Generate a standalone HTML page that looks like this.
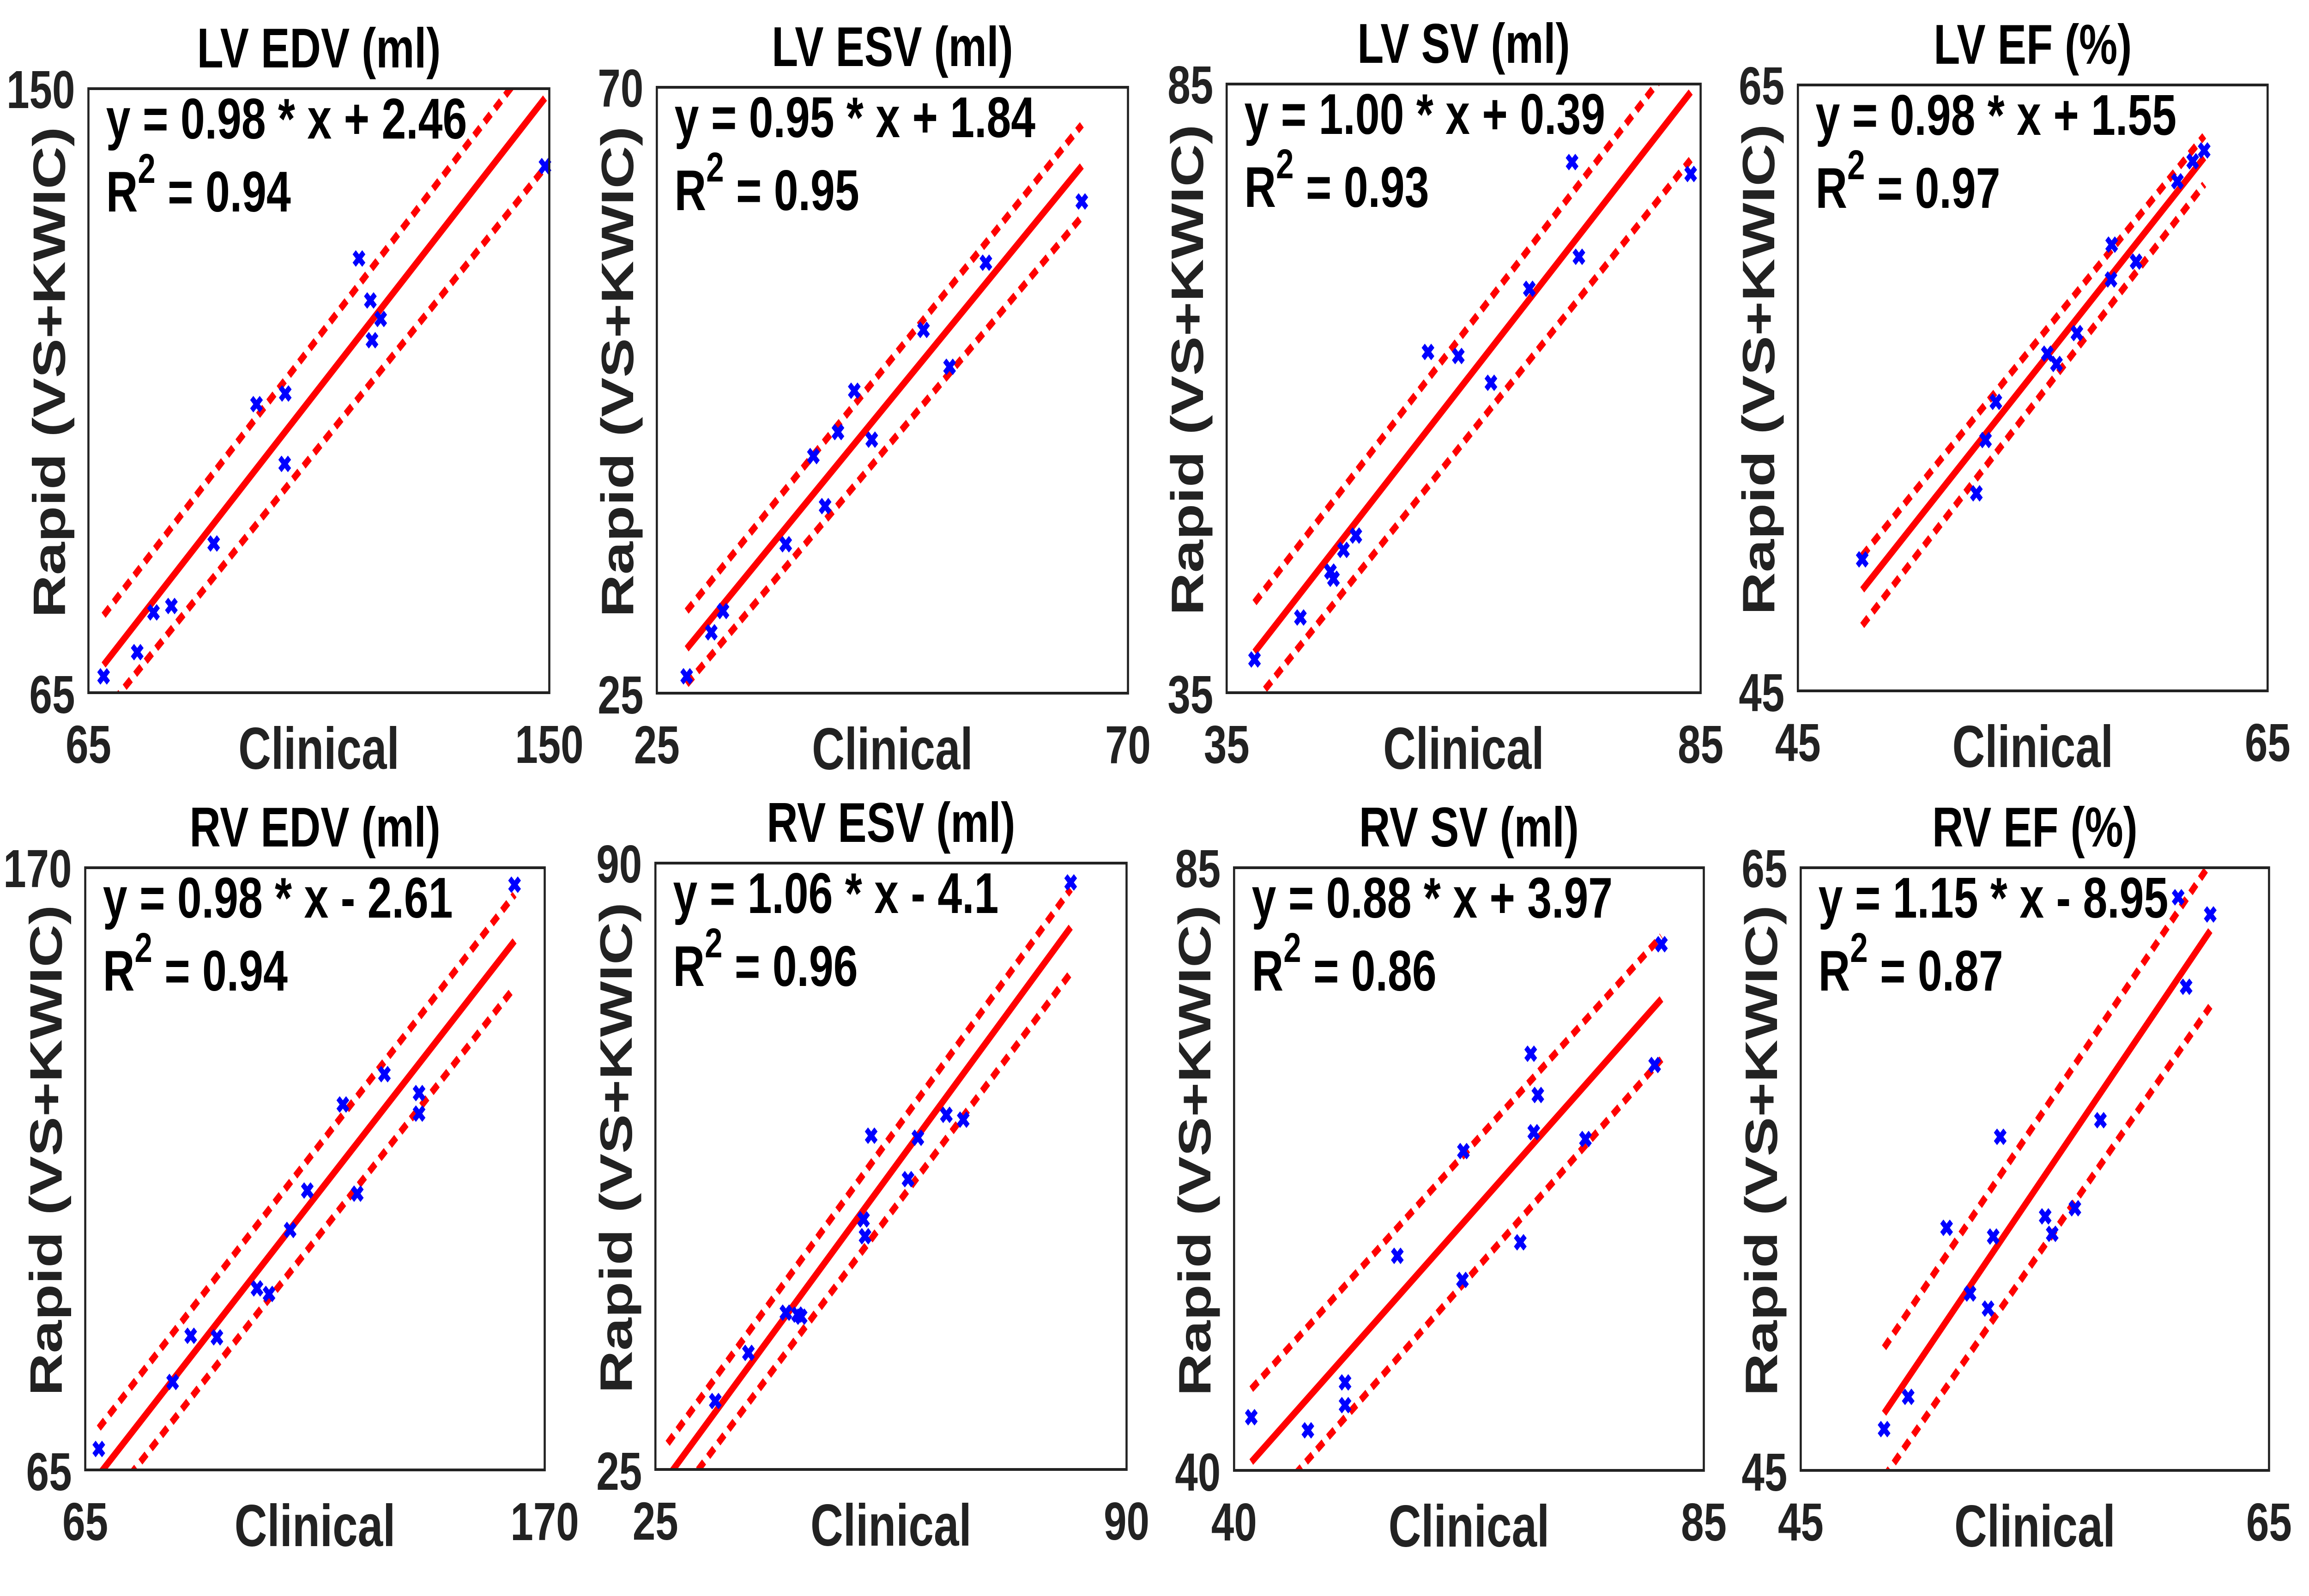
<!DOCTYPE html>
<html>
<head>
<meta charset="utf-8">
<style>
html,body{margin:0;padding:0;background:#fff;width:100%;height:100%;overflow:hidden;}
svg{display:block;width:100vw;height:100vh;}
text{font-family:"Liberation Sans",Arial,sans-serif;font-weight:bold;}
</style>
</head>
<body>
<svg id="fig" viewBox="0 0 6528 3456" preserveAspectRatio="none" xmlns="http://www.w3.org/2000/svg">
<rect x="0" y="0" width="6528" height="3456" fill="#fff"/>
</svg>
<script>
// ---- data (one small array per series) ----
const panelTitles = ["LV EDV (ml)","LV ESV (ml)","LV SV (ml)","LV EF (%)","RV EDV (ml)","RV ESV (ml)","RV SV (ml)","RV EF (%)"];
const axisMin = [65,25,35,45,65,25,40,45];
const axisMax = [150,70,85,65,170,90,85,65];
const fitSlopes = [0.98,0.95,1.00,0.98,0.98,1.06,0.88,1.15];
const fitIntercepts = [2.46,1.84,0.39,1.55,-2.61,-4.1,3.97,-8.95];
const fitLabels = ["y = 0.98 * x + 2.46","y = 0.95 * x + 1.84","y = 1.00 * x + 0.39","y = 0.98 * x + 1.55","y = 0.98 * x - 2.61","y = 1.06 * x - 4.1","y = 0.88 * x + 3.97","y = 1.15 * x - 8.95"];
const r2Labels = ["0.94","0.95","0.93","0.97","0.94","0.96","0.86","0.87"];
const lineRange = [[67.8,149.2],[27.85,65.59],[37.94,83.95],[47.74,62.30],[68.10,163.11],[26.69,82.29],[41.65,80.94],[48.56,62.49]];
const upperBand = [[75.9,156.3],[31.10,67.21],[42.40,88.6],[49.46,63.32],[72.29,165.32],[27.80,87.2],[46.07,79.88],[49.07,65.14]];
const lowerBand = [[62.1,138.9],[25.66,60.39],[34.21,78.79],[47.16,61.72],[57.2,149.15],[20.6,78.23],[36.0,70.7],[44.78,60.40]];

const lvEdvClinical = [67.8,74.0,77.0,80.3,88.1,96.0,101.3,101.2,114.9,117.0,118.9,117.3,149.2];
const lvEdvRapid    = [67.3,70.7,76.3,77.2,86.0,105.6,107.1,97.2,126.1,120.2,117.6,114.6,139.1];
const lvEsvClinical = [27.85,30.20,31.32,37.31,39.95,41.07,42.30,43.86,45.53,50.47,52.96,56.43,65.59];
const lvEsvRapid    = [26.25,29.52,31.10,36.06,42.61,38.89,44.39,47.46,43.83,51.98,49.24,56.97,61.52];
const lvSvClinical  = [37.94,42.78,45.95,46.27,47.32,48.63,56.24,59.44,62.88,66.93,71.44,72.16,83.95];
const lvSvRapid     = [37.73,41.18,44.95,44.36,46.73,47.91,62.99,62.66,60.46,68.18,78.59,70.81,77.61];
const lvEfClinical  = [47.74,52.60,52.99,53.43,55.62,56.01,56.88,58.33,58.36,59.40,61.16,61.81,62.30];
const lvEfRapid     = [49.34,51.52,53.28,54.54,56.13,55.79,56.81,58.58,59.73,59.17,61.82,62.48,62.84];
const rvEdvClinical = [68.10,84.97,89.10,95.09,104.25,107.00,111.82,115.75,123.87,127.17,133.37,141.29,141.29,163.11];
const rvEdvRapid    = [68.65,80.34,88.39,88.12,96.65,95.69,106.84,113.72,128.72,113.17,134.01,130.71,127.13,167.04];
const rvEsvClinical = [33.26,37.83,43.00,44.61,45.11,53.71,53.92,54.77,59.85,61.21,65.14,67.47,82.29];
const rvEsvRapid    = [32.33,37.50,41.81,41.60,41.38,51.81,50.00,60.78,56.12,60.56,63.02,62.50,87.93];
const rvSvClinical  = [41.65,47.07,50.63,50.63,55.64,61.88,61.97,67.42,68.42,68.71,69.10,73.66,80.29,80.94];
const rvSvRapid     = [43.97,42.99,46.57,44.87,56.02,54.22,63.84,57.03,71.11,65.25,68.03,64.74,70.27,79.29];
const rvEfClinical  = [48.56,49.59,51.23,52.23,53.00,53.22,53.52,55.44,55.74,56.71,57.80,61.12,61.46,62.49];
const rvEfRapid     = [46.37,47.44,53.05,50.87,50.37,52.76,56.07,53.43,52.85,53.70,56.62,64.02,61.05,63.45];

const clinicalSeries = [lvEdvClinical,lvEsvClinical,lvSvClinical,lvEfClinical,rvEdvClinical,rvEsvClinical,rvSvClinical,rvEfClinical];
const rapidSeries = [lvEdvRapid,lvEsvRapid,lvSvRapid,lvEfRapid,rvEdvRapid,rvEsvRapid,rvSvRapid,rvEfRapid];

// ---- layout (pixel boxes: left, top, right, bottom) ----
const boxes = [[250,192,1553,1500],[1857,189,3189,1501],[3468,182,4808,1500],[5083,184,6411,1496],
               [241,1879,1540,3183],[1853,1869,3185,3182],[3489,1879,4817,3184],[5091,1879,6415,3184]];

const NS = "http://www.w3.org/2000/svg";
const svg = document.getElementById("fig");
function mk(tag, attrs, parent){
  const e = document.createElementNS(NS, tag);
  for (const k in attrs) e.setAttribute(k, attrs[k]);
  (parent||svg).appendChild(e);
  return e;
}
const defs = mk("defs", {});

for (let p = 0; p < 8; p++) {
  const [L,T,R,B] = boxes[p];
  const lo = axisMin[p], hi = axisMax[p];
  const xs = v => L + (v - lo) / (hi - lo) * (R - L);
  const ys = v => B - (v - lo) / (hi - lo) * (B - T);
  const cx = (L + R) / 2, cy = (T + B) / 2;

  const g = mk("g", {});
  
  

  const clip = mk("clipPath", {id: "clip" + p}, defs);
  mk("rect", {x: L, y: T, width: R - L, height: B - T}, clip);

  const title = mk("text", {x: cx, y: T - 46, "text-anchor": "middle", "font-size": 122, fill: "#000"}, g);
  title.textContent = panelTitles[p];
  
  

  const plot = mk("g", {"clip-path": "url(#clip" + p + ")"}, g);
  
  

  const [x0, x1] = lineRange[p];
  const fit = mk("line", {x1: xs(x0), y1: ys(fitSlopes[p]*x0 + fitIntercepts[p]), x2: xs(x1), y2: ys(fitSlopes[p]*x1 + fitIntercepts[p]),
    stroke: "#ff0000", "stroke-width": 16}, plot);
  
  

  const up = mk("line", {x1: xs(x0), y1: ys(upperBand[p][0]), x2: xs(x1), y2: ys(upperBand[p][1]),
    stroke: "#ff0000", "stroke-width": 16, "stroke-dasharray": "24 17"}, plot);
  
  

  const dn = mk("line", {x1: xs(x0), y1: ys(lowerBand[p][0]), x2: xs(x1), y2: ys(lowerBand[p][1]),
    stroke: "#ff0000", "stroke-width": 16, "stroke-dasharray": "24 17"}, plot);
  
  

  const cs = clinicalSeries[p], rs = rapidSeries[p];
  for (let i = 0; i < cs.length; i++) {
    const px = xs(cs[i]), py = ys(rs[i]);
    const s = 18, w = 9;
    const d = `M${px-s},${py-s+w}L${px-s+w},${py-s}L${px},${py-w}L${px+s-w},${py-s}L${px+s},${py-s+w}L${px+w},${py}L${px+s},${py+s-w}L${px+s-w},${py+s}L${px},${py+w}L${px-s+w},${py+s}L${px-s},${py+s-w}L${px-w},${py}Z`;
    const m = mk("path", {d: d, fill: "#0000ff"}, g);
    
    
  }

  const frame = mk("rect", {x: L, y: T, width: R - L, height: B - T, fill: "none", stroke: "#222", "stroke-width": 6}, g);
  
  

  const eq = mk("text", {x: L + 50, y: T + 108, "font-size": 124, fill: "#000"}, g);
  eq.textContent = fitLabels[p];
  
  

  const r2 = mk("text", {x: L + 50, y: T + 266, "font-size": 124, fill: "#000"}, g);
  
  
  const t1 = mk("tspan", {}, r2); t1.textContent = "R";
  const t2 = mk("tspan", {"font-size": 90, dy: -62}, r2); t2.textContent = "2";
  const t3 = mk("tspan", {dy: 62}, r2); t3.textContent = " = " + r2Labels[p];

  const ytTop = mk("text", {x: L - 38, y: T + 42, "text-anchor": "end", "font-size": 116, fill: "#222"}, g);
  ytTop.textContent = String(hi);
  
  
  const ytBot = mk("text", {x: L - 38, y: B + 44, "text-anchor": "end", "font-size": 116, fill: "#222"}, g);
  ytBot.textContent = String(lo);
  
  

  const xtL = mk("text", {x: L, y: B + 152, "text-anchor": "middle", "font-size": 116, fill: "#222"}, g);
  xtL.textContent = String(lo);
  
  
  const xtR = mk("text", {x: R, y: B + 152, "text-anchor": "middle", "font-size": 116, fill: "#222"}, g);
  xtR.textContent = String(hi);
  
  

  const xl = mk("text", {x: cx, y: B + 165, "text-anchor": "middle", "font-size": 128, fill: "#222"}, g);
  xl.textContent = "Clinical";
  
  

  const ylx = L - 110, yly = cy - 40;
  const yl = mk("text", {x: ylx, y: yly, "text-anchor": "middle", "dominant-baseline": "central", "font-size": 128, fill: "#222",
    transform: `rotate(-90 ${ylx} ${yly})`}, g);
  yl.textContent = "Rapid (VS+KWIC)";
  
  
}
</script>
</body>
</html>
